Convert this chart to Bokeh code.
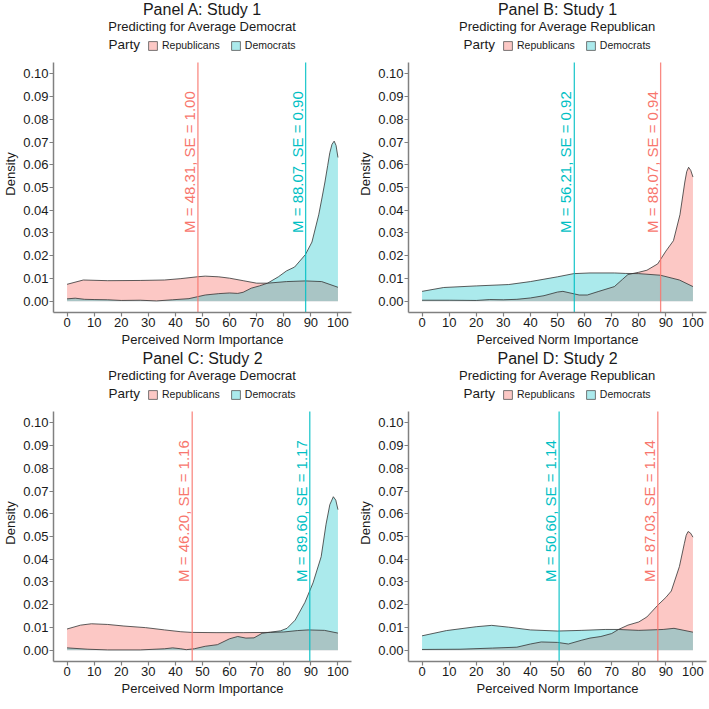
import math
from bokeh.plotting import figure
from bokeh.models import (Range1d, Legend, LegendItem, Title, FixedTicker, Label,
                          NumeralTickFormatter, ColumnDataSource)
from bokeh.layouts import column, row
from bokeh.embed import file_html
from bokeh.resources import INLINE
from bokeh.core.properties import value

RED = "#F8766D"
CYAN = "#00BFC4"
FONT = "Liberation Sans"

panel_titles = ["Panel A: Study 1", "Panel B: Study 1", "Panel C: Study 2", "Panel D: Study 2"]
subtitles = ["Predicting for Average Democrat", "Predicting for Average Republican",
             "Predicting for Average Democrat", "Predicting for Average Republican"]
legend_title = "Party"
legend_labels = ["Republicans", "Democrats"]
x_ticks = [0, 10, 20, 30, 40, 50, 60, 70, 80, 90, 100]
y_ticks = [0.00, 0.01, 0.02, 0.03, 0.04, 0.05, 0.06, 0.07, 0.08, 0.09, 0.10]

a_rep_x = [0, 6, 15, 27, 36, 42, 48, 51, 56, 60, 65, 70, 74, 81, 88, 94, 100]
a_rep_y = [0.0074, 0.0093, 0.0090, 0.0091, 0.0093, 0.0099, 0.0107, 0.0110, 0.0107, 0.0101, 0.0090, 0.0079, 0.0079, 0.0086, 0.0089, 0.0086, 0.0061]
a_dem_x = [0, 3, 6.5, 10, 15, 20, 27, 33, 39, 45, 48, 51, 56, 60, 63, 65, 68, 71, 74, 78, 81, 84, 88, 90.4, 92.9, 94.1, 95.2, 96.2, 97, 97.8, 98.6, 99.3, 100]
a_dem_y = [0.0010, 0.0013, 0.0008, 0.0007, 0.0006, 0.0003, 0.0004, 0.0001, 0.0006, 0.0011, 0.0019, 0.0027, 0.0033, 0.0036, 0.0034, 0.0039, 0.0057, 0.0067, 0.0079, 0.0107, 0.0133, 0.0150, 0.0205, 0.0260, 0.0380, 0.0454, 0.0524, 0.0596, 0.0653, 0.0690, 0.0704, 0.0685, 0.0632]
b_rep_x = [0, 10, 20, 25, 30, 35, 40, 45, 50, 52, 55, 58, 61, 65, 71, 74, 76, 80, 83, 87, 88.6, 90, 92.8, 95.2, 97, 97.7, 98.4, 99.2, 100]
b_rep_y = [0.0004, 0.0004, 0.0003, 0.0007, 0.0006, 0.0008, 0.0014, 0.0024, 0.0040, 0.0043, 0.0035, 0.0027, 0.0027, 0.0042, 0.0064, 0.0096, 0.0117, 0.0127, 0.0136, 0.0164, 0.0194, 0.0220, 0.0266, 0.0380, 0.0524, 0.0570, 0.0589, 0.0575, 0.0546]
b_dem_x = [0, 8, 20, 32, 40, 50, 56, 62, 71, 75, 80, 88, 95, 100]
b_dem_y = [0.0043, 0.0060, 0.0067, 0.0073, 0.0086, 0.0107, 0.0121, 0.0124, 0.0124, 0.0122, 0.0121, 0.0114, 0.0093, 0.0064]
c_rep_x = [0, 5, 9, 15, 21, 29, 36, 42, 46, 55, 65, 75, 80, 85, 89, 95, 100]
c_rep_y = [0.0093, 0.0110, 0.0116, 0.0113, 0.0106, 0.0099, 0.0089, 0.0081, 0.0078, 0.0077, 0.0077, 0.0078, 0.0080, 0.0086, 0.0089, 0.0087, 0.0075]
c_dem_x = [0, 7.7, 15, 27, 36, 39, 42, 44, 47, 51, 55.5, 60, 63, 66, 69, 72, 75, 78.8, 81.2, 84.2, 87.8, 90.8, 93.8, 95.6, 97, 98.3, 99.2, 100]
c_dem_y = [0.0010, 0.0004, 0.0001, 0.0001, 0.0006, 0.0010, 0.0006, 0.0002, 0.0006, 0.0017, 0.0024, 0.0050, 0.0060, 0.0053, 0.0054, 0.0074, 0.0079, 0.0085, 0.0096, 0.0132, 0.0210, 0.0296, 0.0411, 0.0554, 0.0640, 0.0675, 0.0660, 0.0618]
d_rep_x = [0, 14, 26, 35, 40, 44, 50, 54, 59, 62, 66, 70, 72.5, 76, 80, 83, 87.2, 90, 92, 95, 96.8, 97.5, 98.2, 99.1, 100]
d_rep_y = [0.0003, 0.0004, 0.0009, 0.0013, 0.0027, 0.0036, 0.0034, 0.0027, 0.0044, 0.0053, 0.0060, 0.0073, 0.0091, 0.0110, 0.0124, 0.0146, 0.0200, 0.0232, 0.0260, 0.0368, 0.0468, 0.0505, 0.0522, 0.0515, 0.0497]
d_dem_x = [0, 9, 20, 25.7, 32, 40, 50, 59, 67.6, 72.4, 80, 89, 93, 100]
d_dem_y = [0.0063, 0.0086, 0.0103, 0.0109, 0.0101, 0.0089, 0.0084, 0.0087, 0.0091, 0.0091, 0.0087, 0.0091, 0.0096, 0.0079]

rep_means = [48.31, 88.07, 46.20, 87.03]
rep_ses = [1.00, 0.94, 1.16, 1.14]
dem_means = [88.07, 56.21, 89.60, 50.60]
dem_ses = [0.90, 0.92, 1.17, 1.14]

rep_x = [a_rep_x, b_rep_x, c_rep_x, d_rep_x]
rep_y = [a_rep_y, b_rep_y, c_rep_y, d_rep_y]
dem_x = [a_dem_x, b_dem_x, c_dem_x, d_dem_x]
dem_y = [a_dem_y, b_dem_y, c_dem_y, d_dem_y]

# ---- layout constants (pixels) ----
X_LO, X_HI = -5, 105
Y_LO, Y_HI = -0.005, 0.105
FRAME_W = 298
PLOT_H = 250          # height of the plotting area
HEAD = 27             # strip above the plotting area that holds the legend row
Y_TOP = Y_HI + HEAD * (Y_HI - Y_LO) / PLOT_H
PX_X = FRAME_W / (X_HI - X_LO)
PX_Y = PLOT_H / (Y_HI - Y_LO)
borders_right = [4, 5, 4, 5]
BORDER_TOP = 33
BORDER_BOTTOM = 36
LEG_CENTER = 18       # legend row centre, px above the plotting area
ALPHAS = {RED: 0.4, CYAN: 0.33}


def make_panel(i):
    p = figure(frame_width=FRAME_W, frame_height=PLOT_H + HEAD,
               x_range=Range1d(X_LO, X_HI), y_range=Range1d(Y_LO, Y_TOP),
               output_backend="svg", toolbar_location=None,
               min_border_left=48, min_border_right=borders_right[i],
               min_border_top=BORDER_TOP, min_border_bottom=BORDER_BOTTOM)
    p.outline_line_color = None
    p.xgrid.visible = False
    p.ygrid.visible = False

    # densities: Republicans first, Democrats on top
    for xs, ys, col in ((rep_x[i], rep_y[i], RED), (dem_x[i], dem_y[i], CYAN)):
        src = ColumnDataSource(dict(x=xs, y=ys, z=[0] * len(xs)))
        p.varea(x="x", y1="z", y2="y", source=src, fill_color=col, fill_alpha=ALPHAS[col])
    for xs, ys in ((rep_x[i], rep_y[i]), (dem_x[i], dem_y[i])):
        p.line(xs, ys, line_color="#333333", line_width=0.8)

    # mean lines with rotated labels
    for m, se, col in ((rep_means[i], rep_ses[i], RED), (dem_means[i], dem_ses[i], CYAN)):
        p.segment(x0=[m], y0=[Y_LO], x1=[m], y1=[Y_HI], line_color=col,
                  line_width=1.3, line_alpha=0.85)
        p.text(x=[m], y=[0.03], text=["M = %.2f, SE = %.2f" % (m, se)],
               angle=math.pi / 2, text_align="left", text_baseline="bottom",
               text_color=col, text_font_size="15px", text_font=value(FONT))

    # legend keys: zero-size quads anchored at the first data point
    keys = []
    for xs, col in ((rep_x[i], RED), (dem_x[i], CYAN)):
        keys.append(p.quad(left=[xs[0]], right=[xs[0]], bottom=[0], top=[0],
                           fill_color=col, fill_alpha=ALPHAS[col],
                           line_color="#555555", line_width=0.8))
    leg = Legend(items=[LegendItem(label=legend_labels[0], renderers=[keys[0]]),
                        LegendItem(label=legend_labels[1], renderers=[keys[1]])],
                 location=(94, PLOT_H + LEG_CENTER - 7), orientation="horizontal",
                 label_text_font_size="10.5px", label_text_font=FONT,
                 label_text_color="#1a1a1a",
                 glyph_width=11, glyph_height=11, label_standoff=4, spacing=10,
                 padding=0, margin=0, border_line_color=None,
                 background_fill_alpha=0)
    p.add_layout(leg, "center")
    p.add_layout(Label(x=X_LO + 55 / PX_X, y=Y_HI + LEG_CENTER / PX_Y, text=legend_title,
                       text_font_size="13.5px", text_font=FONT, text_color="#1a1a1a",
                       text_baseline="middle", text_align="left"))

    # title rows (closest to frame first)
    p.add_layout(Title(text=subtitles[i], align="center", text_font_size="13px",
                       text_font_style="normal", text_font=FONT, text_color="#1a1a1a",
                       standoff=3), "above")
    p.add_layout(Title(text=panel_titles[i], align="center", text_font_size="16px",
                       text_font_style="normal", text_font=FONT, text_color="#1a1a1a",
                       standoff=-4), "above")

    for ax in (p.xaxis[0], p.yaxis[0]):
        ax.axis_line_color = "#808080"
        ax.axis_line_width = 1.5
        ax.major_tick_line_color = "#808080"
        ax.major_tick_line_width = 1.2
        ax.major_tick_out = 4
        ax.major_tick_in = 0
        ax.minor_tick_line_color = None
        ax.major_label_text_font_size = "13px"
        ax.major_label_text_font = FONT
        ax.major_label_text_color = "#1a1a1a"
        ax.major_label_standoff = 1
        ax.axis_label_text_font_size = "13px"
        ax.axis_label_text_font = FONT
        ax.axis_label_text_font_style = "normal"
        ax.axis_label_text_color = "#1a1a1a"
        ax.axis_label_standoff = 2
    p.yaxis.bounds = (Y_LO, Y_HI)
    p.xaxis.ticker = FixedTicker(ticks=x_ticks)
    p.yaxis.ticker = FixedTicker(ticks=y_ticks)
    p.yaxis.formatter = NumeralTickFormatter(format="0.00")
    p.xaxis.axis_label = "Perceived Norm Importance"
    p.yaxis.axis_label = "Density"
    return p


panels = [make_panel(i) for i in range(4)]
layout = column(row(panels[0], panels[1]), row(panels[2], panels[3]))

open("out.html", "w").write(file_html(layout, INLINE))
